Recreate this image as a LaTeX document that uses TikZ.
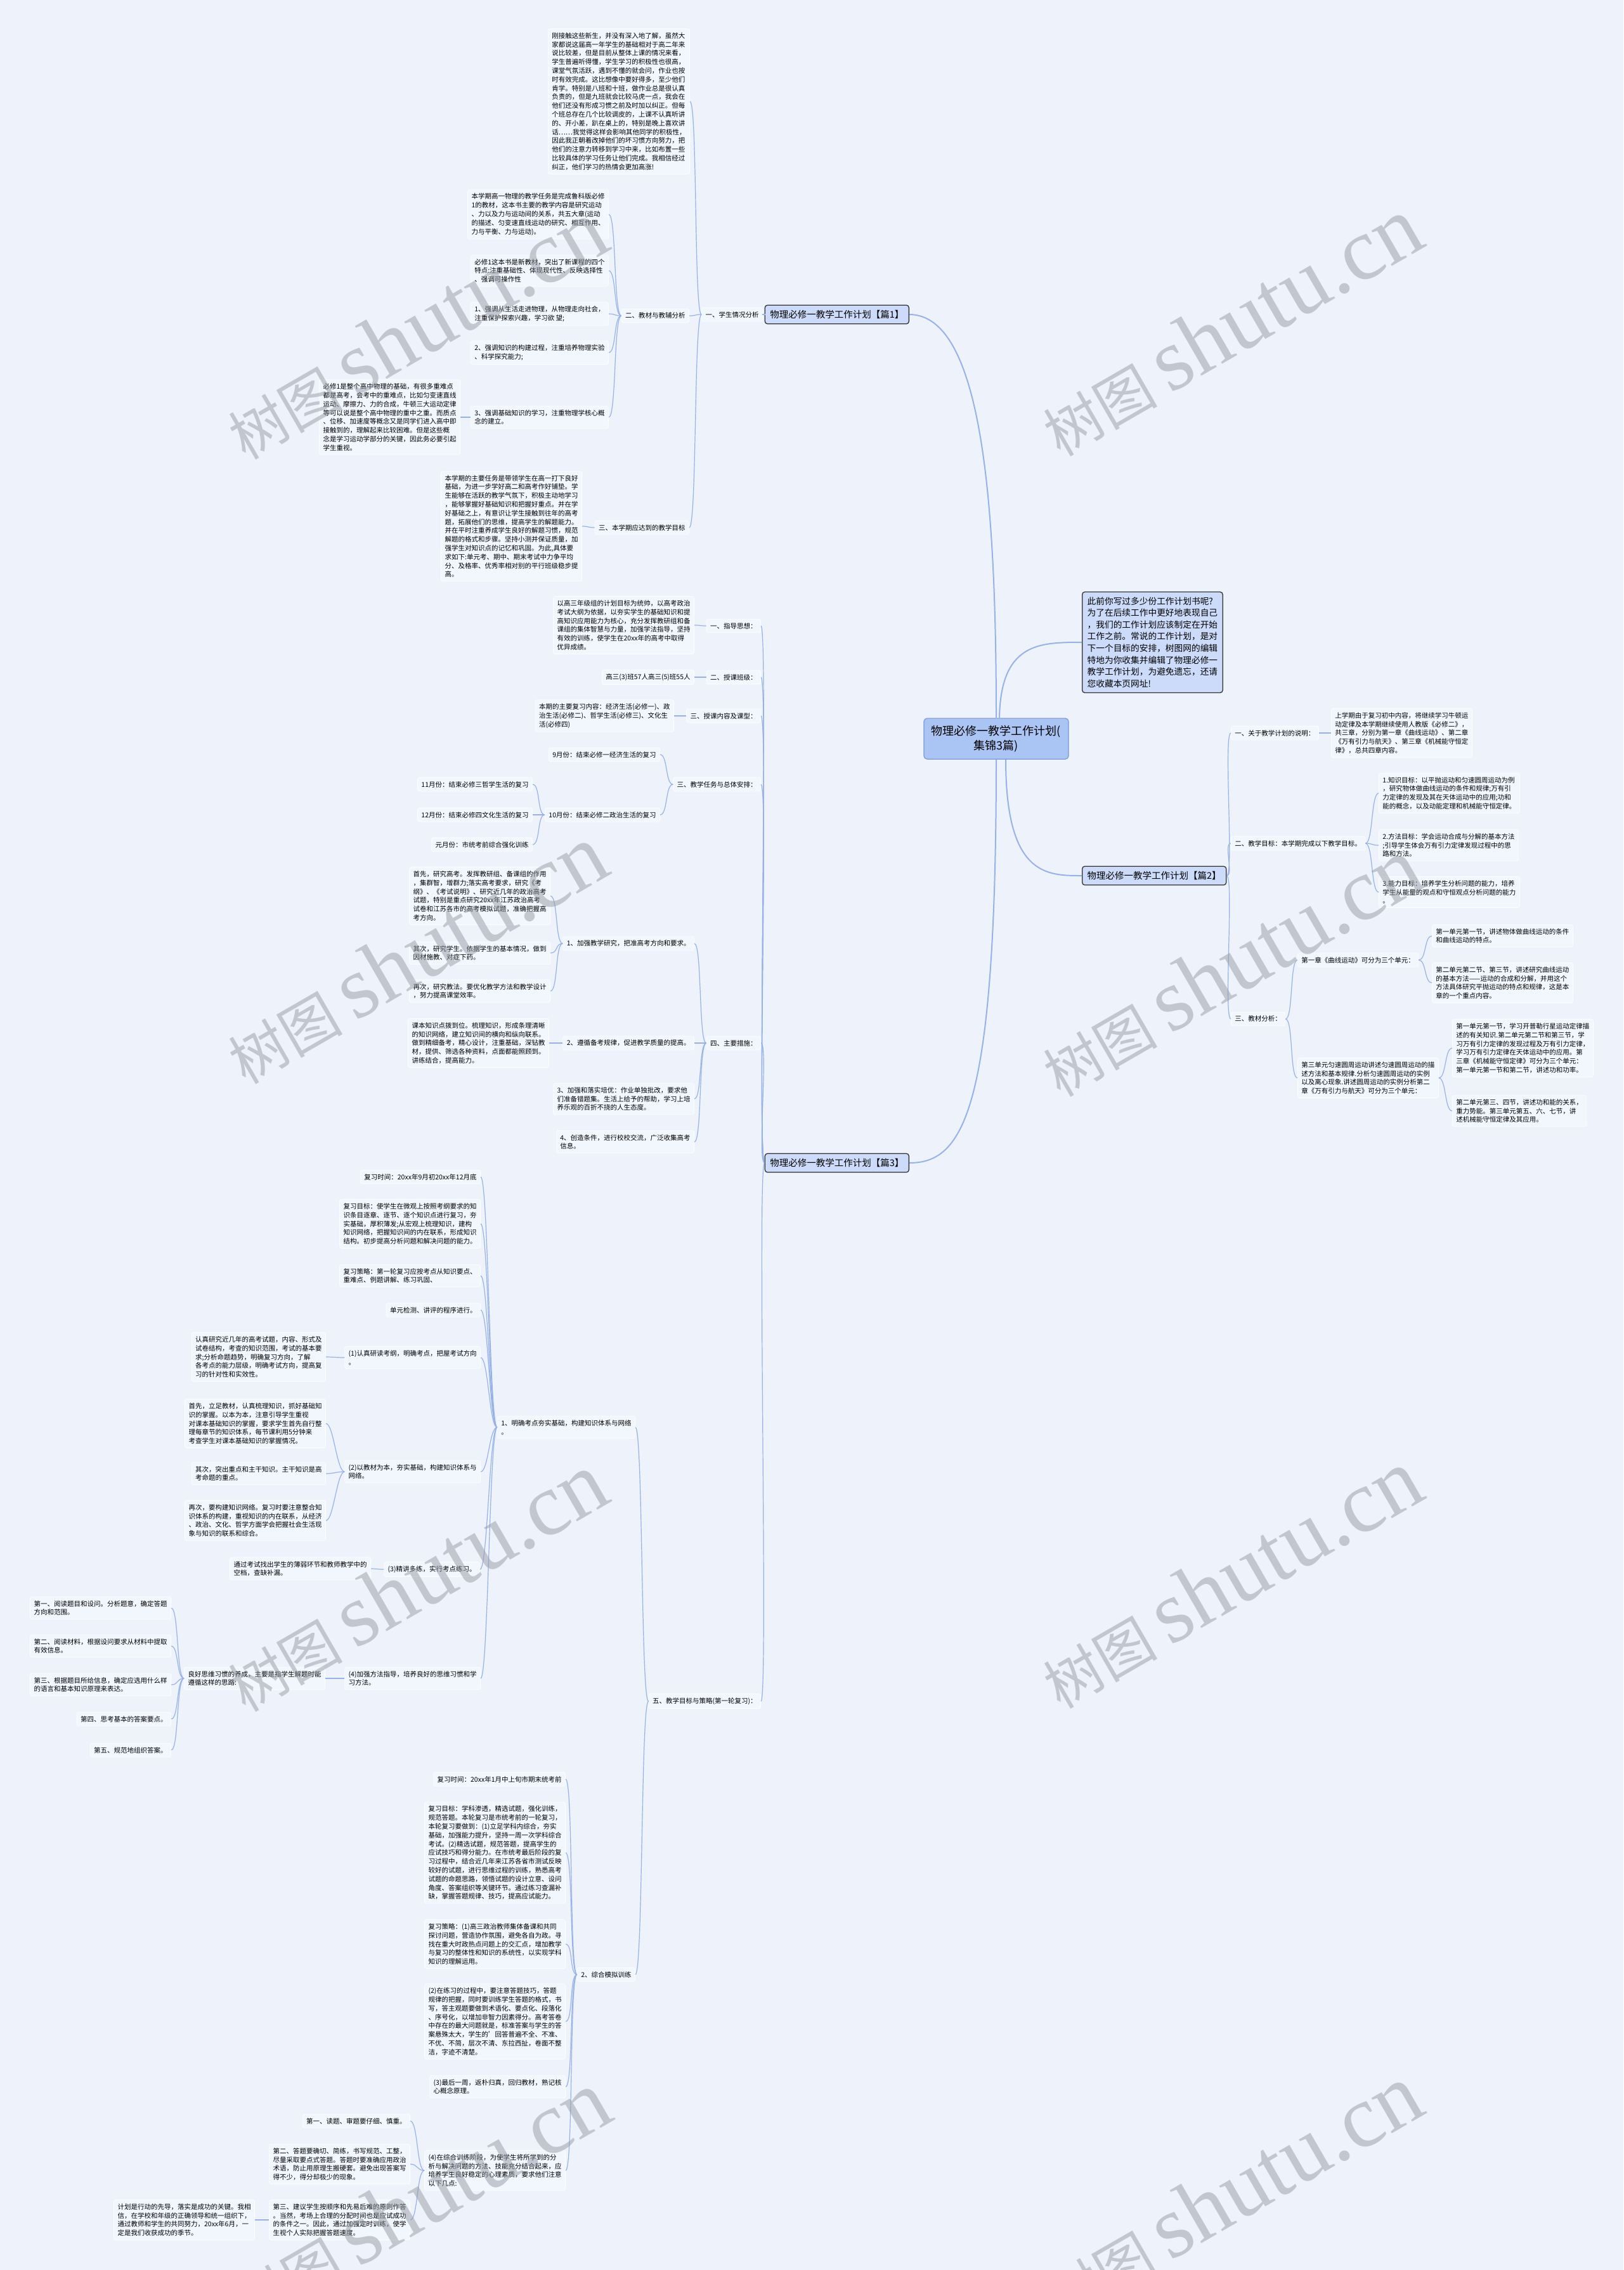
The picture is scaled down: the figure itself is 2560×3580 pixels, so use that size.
\documentclass[tikz,border=0pt]{standalone}
\usepackage{fontspec}
\setmainfont{Noto Sans CJK SC}
\newfontfamily\wmlatin{Liberation Serif}
\definecolor{pagebg}{RGB}{238,243,251}
\definecolor{leaffill}{RGB}{242,246,253}
\definecolor{leafline}{RGB}{252,253,255}
\definecolor{majorfill}{RGB}{204,219,249}
\definecolor{rootfill}{RGB}{170,196,244}
\definecolor{rootline}{RGB}{120,152,215}
\definecolor{linkblue}{RGB}{150,178,230}
\definecolor{wmgray}{RGB}{150,155,165}

\tikzset{
  leaf/.style={draw=leafline, fill=leaffill, line width=0.8pt, rounded corners=3pt,
    align=left, inner xsep=6pt, inner ysep=6pt, font=\fontsize{10.5}{13.8}\selectfont},
  lft/.style={leaf, anchor=east},
  rgt/.style={leaf, anchor=west},
  major/.style={draw=black!80, fill=majorfill, line width=1.3pt, rounded corners=4pt,
    align=left, inner xsep=8pt, inner ysep=8pt},
  rootbox/.style={draw=rootline, fill=rootfill, line width=1.2pt, rounded corners=5pt,
    align=center, inner xsep=12pt, inner ysep=11pt, font=\fontsize{18}{23.5}\selectfont},
  link/.style={draw=linkblue, line width=1.2pt},
  trunk/.style={draw=linkblue, line width=2pt},
  lk/.style={link, to path={.. controls +(-12,0) and +(12,0) .. (\tikztotarget)}},
  rk/.style={link, to path={.. controls +(12,0) and +(-12,0) .. (\tikztotarget)}},
  watermark/.style={text=wmgray, opacity=0.5, rotate=30, inner sep=0pt,
    font=\fontsize{90}{90}\selectfont}
}

\begin{document}
\begin{tikzpicture}[x=1pt, y=-1pt]
  % Page
  \useasboundingbox (0,0) rectangle (2560,3580);
  \fill[pagebg] (0,0) rectangle (2560,3580);

  % Root and the three plans
  \node[rootbox] (root) at (1571,1165) {物理必修一教学工作计划(\\集锦3篇)};
  \node[major, anchor=west, font=\fontsize{13.7}{18.6}\selectfont] (intro) at (1706,1013)
    {此前你写过多少份工作计划书呢?\\为了在后续工作中更好地表现自己\\，我们的工作计划应该制定在开始\\工作之前。常说的工作计划，是对\\下一个目标的安排，树图网的编辑\\特地为你收集并编辑了物理必修一\\教学工作计划，为避免遗忘，还请\\您收藏本页网址!};
  \node[major, anchor=east, font=\fontsize{14.5}{18}\selectfont] (p1) at (1434,496) {物理必修一教学工作计划【篇1】};
  \node[major, anchor=west, font=\fontsize{14.5}{18}\selectfont] (p2) at (1706,1381) {物理必修一教学工作计划【篇2】};
  \node[major, anchor=east, font=\fontsize{14.5}{18}\selectfont] (p3) at (1434,1834) {物理必修一教学工作计划【篇3】};

  \draw[trunk] (root.north) .. controls (1571,800) and (1550,496) .. (p1.east);
  \draw[trunk] ([xshift=5pt]root.north) .. controls (1578,1013) and (1640,1013) .. (intro.west);
  \draw[trunk] ([xshift=15pt]root.south) .. controls (1586,1381) and (1650,1381) .. (p2.west);
  \draw[trunk] (root.south) .. controls (1571,1750) and (1520,1834) .. (p3.east);

  % Plan 1
  \node[lft] (s1a) at (1203,496) {一、学生情况分析};
  \node[lft] (t1) at (1088,160) {刚接触这些新生，并没有深入地了解，虽然大\\家都说这届高一年学生的基础相对于高二年来\\说比较差，但是目前从整体上课的情况来看，\\学生普遍听得懂，学生学习的积极性也很高，\\课堂气氛活跃，遇到不懂的就会问，作业也按\\时有效完成。这比想像中要好得多，至少他们\\肯学。特别是八班和十班，做作业总是很认真\\负责的，但是九班就会比较马虎一点，我会在\\他们还没有形成习惯之前及时加以纠正。但每\\个班总存在几个比较调皮的，上课不认真听讲\\的、开小差，趴在桌上的，特别是晚上喜欢讲\\话……我觉得这样会影响其他同学的积极性，\\因此我正朝着改掉他们的坏习惯方向努力，把\\他们的注意力转移到学习中来，比如布置一些\\比较具体的学习任务让他们完成。我相信经过\\纠正，他们学习的热情会更加高涨!};
  \node[lft] (s1b) at (1087,498) {二、教材与教辅分析};
  \node[lft] (b1) at (960,338) {本学期高一物理的教学任务是完成鲁科版必修\\1的教材，这本书主要的教学内容是研究运动\\、力以及力与运动间的关系，共五大章(运动\\的描述、匀变速直线运动的研究、相互作用、\\力与平衡、力与运动)。};
  \node[lft] (b2) at (960,427) {必修1这本书是新教材，突出了新课程的四个\\特点:注重基础性、体现现代性、反映选择性\\、强调可操作性};
  \node[lft] (b3) at (960,495) {1、强调从生活走进物理，从物理走向社会，\\注重保护探索兴趣，学习欲 望;};
  \node[lft] (b4) at (960,556) {2、强调知识的构建过程，注重培养物理实验\\、科学探究能力;};
  \node[lft] (b5) at (960,658) {3、强调基础知识的学习，注重物理学核心概\\念的建立。};
  \node[lft] (b5a) at (726,658) {必修1是整个高中物理的基础，有很多重难点\\都是高考，会考中的重难点，比如匀变速直线\\运动、摩擦力、力的合成，牛顿三大运动定律\\等可以说是整个高中物理的重中之重。而质点\\、位移、加速度等概念又是同学们进入高中即\\接触到的，理解起来比较困难。但是这些概\\念是学习运动学部分的关键，因此务必要引起\\学生重视。};
  \node[lft] (s1c) at (1087,832) {三、本学期应达到的教学目标};
  \node[lft] (c1) at (918,830) {本学期的主要任务是带领学生在高一打下良好\\基础，为进一步学好高二和高考作好铺垫。学\\生能够在活跃的教学气氛下，积极主动地学习\\，能够掌握好基础知识和把握好重点。并在学\\好基础之上，有意识让学生接触到往年的高考\\题，拓展他们的思维，提高学生的解题能力。\\并在平时注重养成学生良好的解题习惯，规范\\解题的格式和步骤。坚持小测并保证质量，加\\强学生对知识点的记忆和巩固。为此,具体要\\求如下:单元考、期中、期末考试中力争平均\\分、及格率、优秀率相对别的平行班级稳步提\\高。};

  \draw[lk] (p1.west) to (s1a.east);
  \draw[lk] (s1a.west) to (t1.east);
  \draw[lk] (s1a.west) to (s1b.east);
  \draw[lk] (s1a.west) to (s1c.east);
  \draw[lk] (s1b.west) to (b1.east);
  \draw[lk] (s1b.west) to (b2.east);
  \draw[lk] (s1b.west) to (b3.east);
  \draw[lk] (s1b.west) to (b4.east);
  \draw[lk] (s1b.west) to (b5.east);
  \draw[lk] (b5.west) to (b5a.east);
  \draw[lk] (s1c.west) to (c1.east);

  % Plan 2
  \node[rgt] (r1) at (1941,1156) {一、关于教学计划的说明：};
  \node[rgt] (r1a) at (2099,1156) {上学期由于复习初中内容，将继续学习牛顿运\\动定律及本学期继续使用人教版《必修二》，\\共三章，分别为第一章《曲线运动》、第二章\\《万有引力与航天》、第三章《机械能守恒定\\律》，总共四章内容。};
  \node[rgt] (r2) at (1941,1330) {二、教学目标：本学期完成以下教学目标。};
  \node[rgt] (r2a) at (2174,1251) {1.知识目标：以平抛运动和匀速圆周运动为例\\，研究物体做曲线运动的条件和规律;万有引\\力定律的发现及其在天体运动中的应用;功和\\能的概念，以及动能定理和机械能守恒定律。};
  \node[rgt] (r2b) at (2174,1333) {2.方法目标：学会运动合成与分解的基本方法\\;引导学生体会万有引力定律发现过程中的思\\路和方法。};
  \node[rgt] (r2c) at (2174,1407) {3.能力目标：培养学生分析问题的能力，培养\\学生从能量的观点和守恒观点分析问题的能力\\。};
  \node[rgt] (r3) at (1941,1607) {三、教材分析：};
  \node[rgt] (r3a) at (2046,1514) {第一章《曲线运动》可分为三个单元：};
  \node[rgt] (r3a1) at (2258,1476) {第一单元第一节，讲述物体做曲线运动的条件\\和曲线运动的特点。};
  \node[rgt] (r3a2) at (2258,1550) {第二单元第二节、第三节，讲述研究曲线运动\\的基本方法——运动的合成和分解，并用这个\\方法具体研究平抛运动的特点和规律，这是本\\章的一个重点内容。};
  \node[rgt] (r3b) at (2046,1700) {第三单元匀速圆周运动讲述匀速圆周运动的描\\述方法和基本规律.分析匀速圆周运动的实例\\以及离心现象.讲述圆周运动的实例分析第二\\章《万有引力与航天》可分为三个单元：};
  \node[rgt] (r3b1) at (2290,1653) {第一单元第一节，学习开普勒行星运动定律描\\述的有关知识.第二单元第二节和第三节，学\\习万有引力定律的发现过程及万有引力定律，\\学习万有引力定律在天体运动中的应用。第\\三章《机械能守恒定律》可分为三个单元：\\第一单元第一节和第二节，讲述功和功率。};
  \node[rgt] (r3b2) at (2290,1752) {第二单元第三、四节，讲述功和能的关系，\\重力势能。第三单元第五、六、七节，讲\\述机械能守恒定律及其应用。};

  \draw[rk] (p2.east) to (r1.west);
  \draw[rk] (p2.east) to (r2.west);
  \draw[rk] (p2.east) to (r3.west);
  \draw[rk] (r1.east) to (r1a.west);
  \draw[rk] (r2.east) to (r2a.west);
  \draw[rk] (r2.east) to (r2b.west);
  \draw[rk] (r2.east) to (r2c.west);
  \draw[rk] (r3.east) to (r3a.west);
  \draw[rk] (r3.east) to (r3b.west);
  \draw[rk] (r3a.east) to (r3a1.west);
  \draw[rk] (r3a.east) to (r3a2.west);
  \draw[rk] (r3b.east) to (r3b1.west);
  \draw[rk] (r3b.east) to (r3b2.west);

  % Plan 3, upper part
  \node[lft] (q1) at (1200,987) {一、指导思想：};
  \node[lft] (q1a) at (1095,986) {以高三年级组的计划目标为统帅，以高考政治\\考试大纲为依据，以夯实学生的基础知识和提\\高知识应用能力为核心，充分发挥教研组和备\\课组的集体智慧与力量，加强学法指导，坚持\\有效的训练，使学生在20xx年的高考中取得\\优异成绩。};
  \node[lft] (q2) at (1200,1068) {二、授课班级：};
  \node[lft] (q2a) at (1095,1068) {高三(3)班57人高三(5)班55人};
  \node[lft] (q3) at (1200,1129) {三、授课内容及课型：};
  \node[lft] (q3a) at (1063,1129) {本期的主要复习内容：经济生活(必修一)、政\\治生活(必修二)、哲学生活(必修三)、文化生\\活(必修四)};
  \node[lft] (q4) at (1200,1237) {三、教学任务与总体安排：};
  \node[lft] (m9) at (1041,1190) {9月份：结束必修一经济生活的复习};
  \node[lft] (m10) at (1041,1285) {10月份：结束必修二政治生活的复习};
  \node[lft] (m11) at (840,1237) {11月份：结束必修三哲学生活的复习};
  \node[lft] (m12) at (840,1285) {12月份：结束必修四文化生活的复习};
  \node[lft] (m1) at (840,1332) {元月份：市统考前综合强化训练};
  \node[lft] (q5) at (1200,1645) {四、主要措施：};
  \node[lft] (k1) at (1095,1488) {1、加强教学研究，把准高考方向和要求。};
  \node[lft] (k1a) at (868,1413) {首先，研究高考。发挥教研组、备课组的作用\\，集群智，增群力;落实高考要求，研究《考\\纲》、《考试说明》、研究近几年的政治高考\\试题，特别是重点研究20xx年江苏政治高考\\试卷和江苏各市的高考模拟试题，准确把握高\\考方向。};
  \node[lft] (k1b) at (868,1503) {其次，研究学生。依据学生的基本情况，做到\\因材施教、对症下药。};
  \node[lft] (k1c) at (868,1563) {再次，研究教法。要优化教学方法和教学设计\\，努力提高课堂效率。};
  \node[lft] (k2) at (1095,1645) {2、遵循备考规律，促进教学质量的提高。};
  \node[lft] (k2a) at (866,1645) {课本知识点拨到位。梳理知识，形成条理清晰\\的知识网络，建立知识间的横向和纵向联系。\\做到精细备考，精心设计，注重基础，深钻教\\材，提供、筛选各种资料，点面都能照顾到。\\讲练结合，提高能力。};
  \node[lft] (k3) at (1095,1733) {3、加强和落实培优：作业单独批改，要求他\\们准备错题集。生活上给予的帮助，学习上培\\养乐观的百折不挠的人生态度。};
  \node[lft] (k4) at (1095,1801) {4、创造条件，进行校校交流，广泛收集高考\\信息。};
  \node[lft] (q6) at (1200,2683) {五、教学目标与策略(第一轮复习)：};

  \draw[lk] (p3.west) to (q1.east);
  \draw[lk] (p3.west) to (q2.east);
  \draw[lk] (p3.west) to (q3.east);
  \draw[lk] (p3.west) to (q4.east);
  \draw[lk] (p3.west) to (q5.east);
  \draw[lk] (p3.west) to (q6.east);
  \draw[lk] (q1.west) to (q1a.east);
  \draw[lk] (q2.west) to (q2a.east);
  \draw[lk] (q3.west) to (q3a.east);
  \draw[lk] (q4.west) to (m9.east);
  \draw[lk] (q4.west) to (m10.east);
  \draw[lk] (m10.west) to (m11.east);
  \draw[lk] (m10.west) to (m12.east);
  \draw[lk] (m10.west) to (m1.east);
  \draw[lk] (q5.west) to (k1.east);
  \draw[lk] (q5.west) to (k2.east);
  \draw[lk] (q5.west) to (k3.east);
  \draw[lk] (q5.west) to (k4.east);
  \draw[lk] (k1.west) to (k1a.east);
  \draw[lk] (k1.west) to (k1b.east);
  \draw[lk] (k1.west) to (k1c.east);
  \draw[lk] (k2.west) to (k2a.east);

  % Plan 3, first round of review
  \node[lft] (f1) at (1002,2251) {1、明确考点夯实基础，构建知识体系与网络\\。};
  \node[lft] (g1) at (758,1856) {复习时间：20xx年9月初20xx年12月底};
  \node[lft] (g2) at (758,1930) {复习目标：使学生在微观上按照考纲要求的知\\识条目逐章、逐节、逐个知识点进行复习，夯\\实基础，厚积薄发;从宏观上梳理知识，建构\\知识网络，把握知识间的内在联系，形成知识\\结构。初步提高分析问题和解决问题的能力。};
  \node[lft] (g3) at (758,2012) {复习策略：第一轮复习应按考点从知识要点、\\重难点、例题讲解、练习巩固、};
  \node[lft] (g4) at (758,2066) {单元检测、讲评的程序进行。};
  \node[lft] (g5) at (758,2141) {(1)认真研读考纲，明确考点，把屋考试方向\\。};
  \node[lft] (g5a) at (514,2140) {认真研究近几年的高考试题，内容、形式及\\试卷结构，考查的知识范围，考试的基本要\\求;分析命题趋势，明确复习方向，了解\\各考点的能力层级，明确考试方向，提高复\\习的针对性和实效性。};
  \node[lft] (g6) at (758,2321) {(2)以教材为本，夯实基础，构建知识体系与\\网络。};
  \node[lft] (g6a) at (514,2245) {首先，立足教材，认真梳理知识，抓好基础知\\识的掌握。以本为本，注意引导学生重视\\对课本基础知识的掌握，要求学生首先自行整\\理每章节的知识体系，每节课利用5分钟来\\考查学生对课本基础知识的掌握情况。};
  \node[lft] (g6b) at (514,2324) {其次，突出重点和主干知识。主干知识是高\\考命题的重点。};
  \node[lft] (g6c) at (514,2398) {再次，要构建知识网络。复习时要注意整合知\\识体系的构建，重视知识的内在联系，从经济\\、政治、文化、哲学方面学会把握社会生活现\\象与知识的联系和综合。};
  \node[lft] (g7) at (757,2475) {(3)精讲多练，实行考点练习。};
  \node[lft] (g7a) at (585,2474) {通过考试找出学生的薄弱环节和教师教学中的\\空档，查缺补漏。};
  \node[lft] (g8) at (758,2647) {(4)加强方法指导，培养良好的思维习惯和学\\习方法。};
  \node[lft] (g8a) at (513,2647) {良好思维习惯的养成，主要是指学生解题时能\\遵循这样的思路:};
  \node[lft] (h1) at (270,2536) {第一、阅读题目和设问。分析题意，确定答题\\方向和范围。};
  \node[lft] (h2) at (270,2596) {第二、阅读材料，根据设问要求从材料中提取\\有效信息。};
  \node[lft] (h3) at (270,2657) {第三、根据题目所给信息，确定应选用什么样\\的语言和基本知识原理来表达。};
  \node[lft] (h4) at (270,2711) {第四、思考基本的答案要点。};
  \node[lft] (h5) at (270,2760) {第五、规范地组织答案。};

  \draw[lk] (q6.west) to (f1.east);
  \draw[lk] (f1.west) to (g1.east);
  \draw[lk] (f1.west) to (g2.east);
  \draw[lk] (f1.west) to (g3.east);
  \draw[lk] (f1.west) to (g4.east);
  \draw[lk] (f1.west) to (g5.east);
  \draw[lk] (f1.west) to (g6.east);
  \draw[lk] (f1.west) to (g7.east);
  \draw[lk] (f1.west) to (g8.east);
  \draw[lk] (g5.west) to (g5a.east);
  \draw[lk] (g6.west) to (g6a.east);
  \draw[lk] (g6.west) to (g6b.east);
  \draw[lk] (g6.west) to (g6c.east);
  \draw[lk] (g7.west) to (g7a.east);
  \draw[lk] (g8.west) to (g8a.east);
  \draw[lk] (g8a.west) to (h1.east);
  \draw[lk] (g8a.west) to (h2.east);
  \draw[lk] (g8a.west) to (h3.east);
  \draw[lk] (g8a.west) to (h4.east);
  \draw[lk] (g8a.west) to (h5.east);

  % Plan 3, mock training
  \node[lft] (f2) at (1002,3114) {2、综合模拟训练};
  \node[lft] (e1) at (892,2806) {复习时间：20xx年1月中上旬市期末统考前};
  \node[lft] (e2) at (892,2922) {复习目标：学科渗透，精选试题，强化训练，\\规范答题。本轮复习是市统考前的一轮复习，\\本轮复习要做到：(1)立足学科内综合，夯实\\基础，加强能力提升，坚持一周一次学科综合\\考试。(2)精选试题，规范答题，提高学生的\\应试技巧和得分能力。在市统考最后阶段的复\\习过程中，结合近几年来江苏各省市测试反映\\较好的试题，进行思维过程的训练，熟悉高考\\试题的命题思路，领悟试题的设计立意、设问\\角度、答案组织等关键环节。通过练习查漏补\\缺，掌握答题规律、技巧，提高应试能力。};
  \node[lft] (e3) at (892,3066) {复习策略：(1)高三政治教师集体备课和共同\\探讨问题，营造协作氛围，避免各自为政。寻\\找在重大时政热点问题上的交汇点，增加教学\\与复习的整体性和知识的系统性，以实现学科\\知识的理解运用。};
  \node[lft] (e4) at (892,3188) {(2)在练习的过程中，要注意答题技巧，答题\\规律的把握，同时要训练学生答题的格式，书\\写，答主观题要做到术语化、要点化、段落化\\、序号化，以增加非智力因素得分。高考答卷\\中存在的最大问题就是，标准答案与学生的答\\案悬殊太大，学生的'回答普遍不全、不准、\\不优、不简，层次不清、东拉西扯，卷面不整\\洁，字迹不清楚。};
  \node[lft] (e5) at (892,3291) {(3)最后一周，返朴归真，回归教材，熟记核\\心概念原理。};
  \node[lft] (e6) at (892,3423) {(4)在综合训练阶段，为使学生将所学到的分\\析与解决问题的方法、技能充分结合起来，应\\培养学生良好稳定的心理素质，要求他们注意\\以下几点:};
  \node[lft] (e6a) at (647,3345) {第一、读题、审题要仔细、慎重。};
  \node[lft] (e6b) at (647,3413) {第二、答题要确切、简练，书写规范、工整，\\尽量采取要点式答题。答题时要准确应用政治\\术语，防止用原理生搬硬套。避免出现答案写\\得不少，得分却极少的现象。};
  \node[lft] (e6c) at (647,3501) {第三、建议学生按顺序和先易后难的原则作答\\。当然，考场上合理的分配时间也是应试成功\\的条件之一。因此，通过加强定时训练，使学\\生视个人实际把握答题速度。};
  \node[lft] (e6c1) at (402,3501) {计划是行动的先导，落实是成功的关键。我相\\信，在学校和年级的正确领导和统一组织下，\\通过教师和学生的共同努力，20xx年6月，一\\定是我们收获成功的季节。};

  \draw[lk] (q6.west) to (f2.east);
  \draw[lk] (f2.west) to (e1.east);
  \draw[lk] (f2.west) to (e2.east);
  \draw[lk] (f2.west) to (e3.east);
  \draw[lk] (f2.west) to (e4.east);
  \draw[lk] (f2.west) to (e5.east);
  \draw[lk] (f2.west) to (e6.east);
  \draw[lk] (e6.west) to (e6a.east);
  \draw[lk] (e6.west) to (e6b.east);
  \draw[lk] (e6.west) to (e6c.east);
  \draw[lk] (e6c.west) to (e6c1.east);

  % Watermarks
  \node[watermark] (wm1) at (655,520) {树图 {\wmlatin\fontsize{140}{140}\selectfont shutu.cn}};
  \node[watermark] (wm2) at (1940,515) {树图 {\wmlatin\fontsize{140}{140}\selectfont shutu.cn}};
  \node[watermark] (wm3) at (655,1505) {树图 {\wmlatin\fontsize{140}{140}\selectfont shutu.cn}};
  \node[watermark] (wm4) at (1940,1525) {树图 {\wmlatin\fontsize{140}{140}\selectfont shutu.cn}};
  \node[watermark] (wm5) at (655,2495) {树图 {\wmlatin\fontsize{140}{140}\selectfont shutu.cn}};
  \node[watermark] (wm6) at (1940,2490) {树图 {\wmlatin\fontsize{140}{140}\selectfont shutu.cn}};
  \node[watermark] (wm7) at (660,3470) {树图 {\wmlatin\fontsize{140}{140}\selectfont shutu.cn}};
  \node[watermark] (wm8) at (1940,3460) {树图 {\wmlatin\fontsize{140}{140}\selectfont shutu.cn}};
\end{tikzpicture}
\end{document}
